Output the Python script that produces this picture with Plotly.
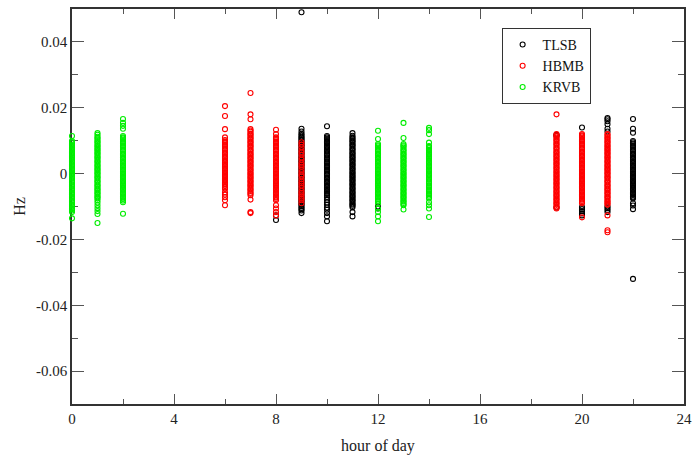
import plotly.graph_objects as go

# ---------------- data, values in units of 1e-4 Hz ----------------
UNIT = 1e-4

# TLSB (black)
tlsb_h8 = [-127, -141]
tlsb_h9 = [490, 136, 128, 121, 117, 112, 109, 104, 101, 96, 93, 88, 85, 81, 76, 73, 69, 64, 61, 57, 52,
           49, 45, 40, 37, 33, 28, 25, 21, 16, 13, 9, 4, 1, -3, -8, -11, -15, -20, -23, -27, -32, -35,
           -39, -44, -47, -51, -56, -59, -63, -68, -71, -75, -80, -83, -87, -92, -95, -99, -104, -108,
           -112, -120]
tlsb_h10 = [144, 114, 110, 106, 102, 97, 94, 90, 85, 82, 78, 73, 70, 66, 61, 58, 54, 49, 46, 42, 37, 34,
            30, 25, 22, 18, 13, 10, 6, 1, -2, -6, -11, -14, -18, -23, -26, -30, -35, -38, -42, -47, -50,
            -54, -59, -62, -66, -72, -80, -88, -95, -103, -110, -120, -130, -145]
tlsb_h11 = [123, 115, 110, 106, 101, 98, 94, 89, 86, 82, 77, 74, 70, 65, 62, 58, 53, 50, 46, 41, 38, 34,
            29, 26, 22, 17, 14, 10, 5, 2, -2, -7, -10, -14, -19, -22, -26, -31, -34, -38, -43, -46, -50,
            -55, -58, -62, -67, -70, -74, -79, -82, -86, -91, -94, -98, -102, -117, -130]
tlsb_h12 = [-100, -106]
tlsb_h19 = [118, 115, -103]
tlsb_h20 = [140, -102, -108, -114, -121, -127]
tlsb_h21 = [169, 165, 159, 150, 136, 128, -100, -105, -111, -117]
tlsb_h22 = [166, 136, 124, 99, 95, 91, 86, 83, 79, 74, 71, 67, 62, 59, 55, 50, 47, 43, 38, 35, 31, 26,
            23, 19, 14, 11, 7, 2, -1, -5, -10, -13, -17, -22, -25, -29, -34, -37, -41, -46, -49, -53,
            -58, -61, -65, -70, -73, -76, -90, -97, -108, -320]

# HBMB (red)
hbmb_h6 = [205, 175, 135, 110, 102, 98, 94, 89, 86, 82, 77, 74, 70, 65, 62, 58, 53, 50, 46, 41, 38, 34,
           29, 26, 22, 17, 14, 10, 5, 2, -2, -7, -10, -14, -19, -22, -26, -31, -34, -38, -42, -47, -57,
           -64, -72, -81, -96]
hbmb_h7 = [245, 180, 165, 135, 131, 127, 122, 119, 115, 110, 107, 103, 98, 95, 91, 86, 83, 79, 74, 71,
           67, 62, 59, 55, 50, 47, 43, 38, 35, 31, 26, 23, 19, 14, 11, 7, 2, -1, -5, -10, -13, -17, -22,
           -25, -29, -34, -37, -41, -46, -49, -53, -58, -61, -66, -79, -117, -120]
hbmb_h8 = [133, 120, 110, 107, 103, 98, 95, 91, 86, 83, 79, 74, 71, 67, 62, 59, 55, 50, 47, 43, 38, 35,
           31, 26, 23, 19, 14, 11, 7, 2, -1, -5, -10, -13, -17, -22, -25, -29, -34, -37, -41, -46, -49,
           -53, -58, -61, -65, -70, -73, -77, -81, -96, -106, -117, -127]
hbmb_h9 = [95, 88, 80, 71, 64, 58, 49, 42, 33, 27, 21, 12, 4, -3, -8, -17, -25, -30, -36, -44, -52, -58,
           -63, -70, -76, -81, -90]
hbmb_h19 = [180, 120, 116, 113, 109, 104, 101, 97, 92, 89, 85, 80, 77, 73, 68, 65, 61, 56, 53, 49, 44,
            41, 37, 32, 29, 25, 20, 17, 13, 8, 5, 1, -4, -7, -11, -16, -19, -23, -28, -31, -35, -40, -43,
            -47, -52, -55, -59, -64, -67, -71, -76, -79, -83, -88, -91, -95, -100, -103, -106]
hbmb_h20 = [120, 116, 113, 109, 104, 101, 97, 92, 89, 85, 80, 77, 73, 68, 65, 61, 56, 53, 49, 44, 41, 37,
            32, 29, 25, 20, 17, 13, 8, 5, 1, -4, -7, -11, -16, -19, -23, -28, -31, -35, -40, -43, -47,
            -52, -55, -59, -64, -67, -71, -76, -79, -83, -87, -90, -133]
hbmb_h21 = [120, 117, 112, 108, 104, 99, 96, 92, 87, 84, 80, 75, 72, 68, 63, 60, 56, 51, 48, 44, 39, 36,
            32, 27, 24, 20, 15, 12, 8, 3, 0, -4, -9, -12, -16, -21, -24, -28, -33, -36, -40, -45, -48,
            -52, -57, -60, -64, -69, -72, -76, -81, -84, -88, -92, -95, -127, -172, -178]

# KRVB (green)
krvb_h0 = [114, 99, 96, 92, 87, 84, 80, 75, 72, 68, 63, 60, 56, 51, 48, 44, 39, 36, 32, 27, 24, 20, 15,
           12, 8, 3, 0, -4, -9, -12, -16, -21, -24, -28, -33, -36, -40, -45, -48, -52, -57, -60, -64,
           -69, -72, -76, -81, -84, -88, -93, -96, -100, -105, -108, -112, -117, -136]
krvb_h1 = [123, 118, 112, 108, 104, 99, 96, 92, 87, 84, 80, 75, 72, 68, 63, 60, 56, 51, 48, 44, 39, 36,
           32, 27, 24, 20, 15, 12, 8, 3, 0, -4, -9, -12, -16, -21, -24, -28, -33, -36, -40, -45, -48,
           -52, -57, -60, -64, -69, -72, -76, -81, -88, -96, -105, -114, -123, -150]
krvb_h2 = [166, 154, 145, 136, 114, 110, 107, 103, 98, 95, 91, 86, 83, 79, 74, 71, 67, 62, 59, 55, 50,
           47, 43, 38, 35, 31, 26, 23, 19, 14, 11, 7, 2, -1, -5, -10, -13, -17, -22, -25, -29, -34, -37,
           -41, -46, -49, -53, -58, -61, -65, -70, -73, -77, -82, -87, -122]
krvb_h12 = [130, 105, 90, 86, 83, 79, 74, 71, 67, 62, 59, 55, 50, 47, 43, 38, 35, 31, 26, 23, 19, 14,
            11, 7, 2, -1, -5, -10, -13, -17, -22, -25, -29, -34, -37, -41, -46, -49, -53, -58, -61, -65,
            -70, -73, -77, -82, -85, -91, -106, -117, -130, -145]
krvb_h13 = [154, 108, 90, 86, 83, 79, 74, 71, 67, 62, 59, 55, 50, 47, 43, 38, 35, 31, 26, 23, 19, 14,
            11, 7, 2, -1, -5, -10, -13, -17, -22, -25, -29, -34, -37, -41, -46, -49, -53, -58, -61, -65,
            -70, -73, -77, -82, -85, -89, -93, -96, -109]
krvb_h14 = [139, 132, 120, 94, 84, 81, 77, 72, 69, 65, 60, 57, 53, 48, 45, 41, 36, 33, 29, 24, 21, 17,
            12, 9, 5, 0, -3, -7, -12, -15, -19, -24, -27, -31, -36, -39, -43, -48, -51, -55, -60, -63,
            -67, -72, -76, -87, -96, -106, -132]

tlsb = {8: tlsb_h8, 9: tlsb_h9, 10: tlsb_h10, 11: tlsb_h11, 12: tlsb_h12,
        19: tlsb_h19, 20: tlsb_h20, 21: tlsb_h21, 22: tlsb_h22}
hbmb = {6: hbmb_h6, 7: hbmb_h7, 8: hbmb_h8, 9: hbmb_h9, 19: hbmb_h19, 20: hbmb_h20, 21: hbmb_h21}
krvb = {0: krvb_h0, 1: krvb_h1, 2: krvb_h2, 12: krvb_h12, 13: krvb_h13, 14: krvb_h14}

series_names = ["TLSB", "HBMB", "KRVB"]
series_data = [tlsb, hbmb, krvb]
series_colors = ["#000000", "#ff0000", "#00ee00"]

y_tickvals = [-0.06, -0.04, -0.02, 0, 0.02, 0.04]
y_ticktext = ["-0.06", "-0.04", "-0.02", "0", "0.02", "0.04"]
x_tickvals = [0, 4, 8, 12, 16, 20, 24]

FONT = "Liberation Serif"

fig = go.Figure()
for name, data, color in zip(series_names, series_data, series_colors):
    xs, ys = [], []
    for h, vals in data.items():
        xs += [h] * len(vals)
        ys += [v * UNIT for v in vals]
    fig.add_trace(go.Scatter(
        x=xs, y=ys, mode="markers", name=name, cliponaxis=False,
        marker=dict(symbol="circle-open", size=5, color=color, line=dict(width=1.1, color=color)),
    ))

axis_common = dict(
    showline=True, linecolor="#333333", linewidth=1.5, mirror="ticks",
    ticks="inside", tickcolor="#555555", tickwidth=1.3,
    showgrid=False, zeroline=False, layer="below traces",
    tickfont=dict(family=FONT, size=15, color="#222222"),
)

fig.update_xaxes(
    range=[0, 24], tickvals=x_tickvals, ticklen=10,
    minor=dict(dtick=2, tick0=0, ticklen=5, ticks="inside", tickcolor="#555555", tickwidth=1.3),
    title=dict(text="hour of day", font=dict(family=FONT, size=16, color="#222222"), standoff=14),
    **axis_common,
)
fig.update_yaxes(
    range=[-0.07, 0.05], tickvals=y_tickvals, ticktext=y_ticktext, ticklen=12,
    minor=dict(dtick=0.01, tick0=0, ticklen=6, ticks="inside", tickcolor="#555555", tickwidth=1.3),
    title=dict(text="Hz", font=dict(family=FONT, size=16, color="#222222"), standoff=6),
    **axis_common,
)

fig.update_layout(
    width=699, height=459,
    margin=dict(l=72, r=10, t=7, b=53),
    plot_bgcolor="white", paper_bgcolor="white",
    legend=dict(
        x=0.702, y=0.952, xanchor="left", yanchor="top",
        bordercolor="#333333", borderwidth=1, bgcolor="white",
        font=dict(family=FONT, size=14, color="#111111"),
        tracegroupgap=0, itemsizing="trace",
    ),
)

fig.write_html("out.html")
